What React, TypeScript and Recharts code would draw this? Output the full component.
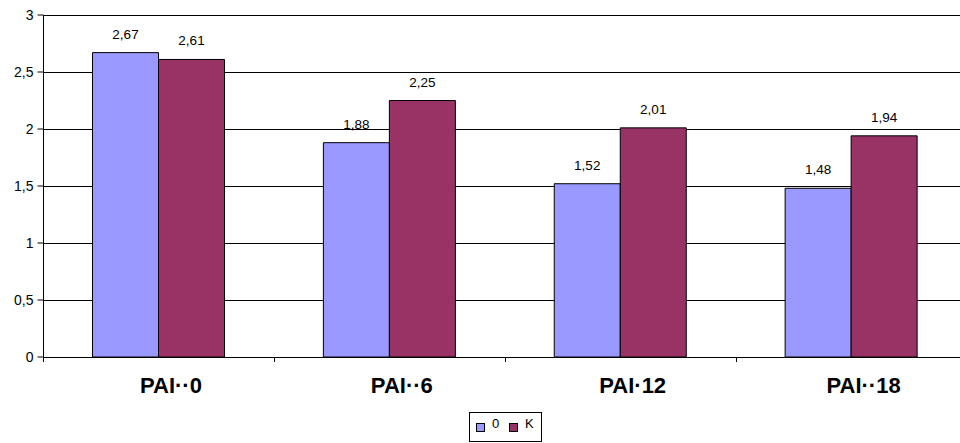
import { BarChart, Bar, XAxis, YAxis, CartesianGrid, LabelList } from 'recharts';

const categories = ['PAI··0', 'PAI··6', 'PAI·12', 'PAI··18'];
const seriesO = [2.67, 1.88, 1.52, 1.48];
const seriesK = [2.61, 2.25, 2.01, 1.94];
const yTicks = [0, 0.5, 1, 1.5, 2, 2.5, 3];

const chartData = categories.map((name, i) => ({ name, o: seriesO[i], k: seriesK[i] }));

const FONT = '"Liberation Sans", Arial, sans-serif';
const comma = (v: unknown) => String(v).replace('.', ',');

// gridlines snapped to the pixel grid so they stay 1px and solid black
function GridLine(p: any) {
  const y = Math.round(p.y1) + 0.5;
  return <line key={p.key} x1={p.x1} x2={p.x2} y1={y} y2={y} stroke="#000" strokeWidth={1} />;
}

// category label plus a small tick on the left boundary of each band
function CategoryTick(props: any) {
  const { x, y, payload } = props;
  const half = 115.5;
  const tx = Math.round(x - half) + 0.5;
  return (
    <g>
      <line x1={tx} y1={y} x2={tx} y2={y + 5} stroke="#000" />
      <text
        x={x + 12}
        y={y + 36}
        textAnchor="middle"
        fontFamily={FONT}
        fontWeight="bold"
        fontSize={22}
        fill="#000"
      >
        {payload.value}
      </text>
    </g>
  );
}

function LegendBox() {
  const sw = (color: string, left: number) => (
    <span
      style={{
        position: 'absolute',
        left,
        top: 10,
        width: 9,
        height: 9,
        boxSizing: 'border-box',
        background: color,
        border: '1px solid #000',
      }}
    />
  );
  const label = (text: string, left: number) => (
    <span style={{ position: 'absolute', left, top: 3, fontFamily: FONT, fontSize: 13, lineHeight: '15px' }}>
      {text}
    </span>
  );
  return (
    <div
      style={{
        position: 'absolute',
        left: 469,
        top: 412,
        width: 73,
        height: 30,
        border: '1px solid #000',
        boxSizing: 'border-box',
        background: '#fff',
      }}
    >
      {sw('#9999ff', 6)}
      {label('0', 22)}
      {sw('#993366', 39)}
      {label('K', 55)}
    </div>
  );
}

export default function App() {
  return (
    <div
      style={{
        position: 'absolute',
        left: 0,
        top: 0,
        width: 960,
        height: 443,
        overflow: 'hidden',
        background: '#fff',
      }}
    >
      <BarChart
        width={967}
        height={443}
        data={chartData}
        margin={{ top: 15, right: 0, left: 0, bottom: 56 }}
        barCategoryGap={49}
        barGap={0}
      >
        <CartesianGrid vertical={false} horizontal={GridLine} />
        <XAxis
          dataKey="name"
          height={30}
          tickSize={0}
          tickMargin={0}
          tickLine={false}
          axisLine={false}
          tick={<CategoryTick />}
          interval={0}
        />
        <YAxis
          width={43.5}
          domain={[0, 3]}
          ticks={yTicks}
          tickFormatter={comma}
          axisLine={{ stroke: '#000' }}
          tickLine={{ stroke: '#000' }}
          tickSize={6}
          tickMargin={4}
          tick={{ fontFamily: FONT, fontSize: 14, fill: '#000' }}
        />
        <Bar dataKey="o" fill="#9999ff" stroke="#000" strokeWidth={1} isAnimationActive={false}>
          <LabelList
            dataKey="o"
            position="top"
            offset={14}
            formatter={comma}
            style={{ fontFamily: FONT, fontSize: 13.5, fill: '#000' }}
          />
        </Bar>
        <Bar dataKey="k" fill="#993366" stroke="#000" strokeWidth={1} isAnimationActive={false}>
          <LabelList
            dataKey="k"
            position="top"
            offset={14}
            formatter={comma}
            style={{ fontFamily: FONT, fontSize: 13.5, fill: '#000' }}
          />
        </Bar>
      </BarChart>
      <LegendBox />
    </div>
  );
}
